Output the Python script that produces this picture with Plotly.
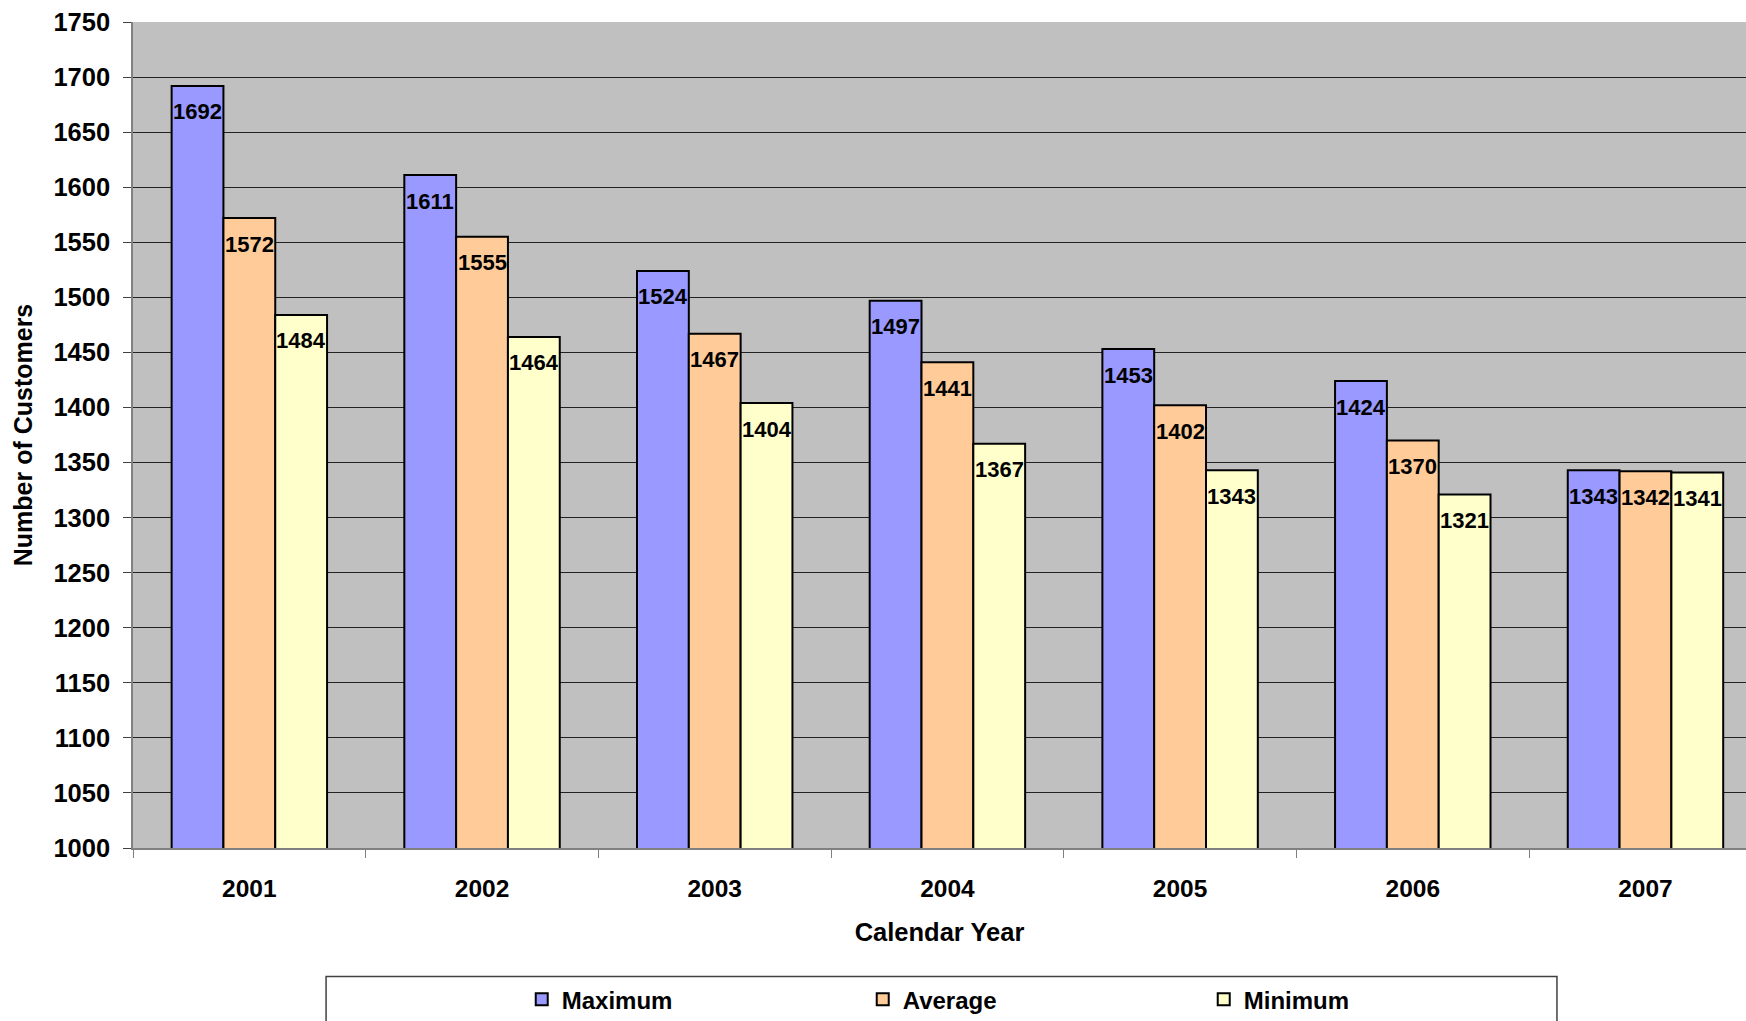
import plotly.graph_objects as go

years = ["2001", "2002", "2003", "2004", "2005", "2006", "2007"]
maximum = [1692, 1611, 1524, 1497, 1453, 1424, 1343]
average = [1572, 1555, 1467, 1441, 1402, 1370, 1342]
minimum = [1484, 1464, 1404, 1367, 1343, 1321, 1341]
series_names = ["Maximum", "Average", "Minimum"]
series_colors = ["#9999FF", "#FFCC99", "#FFFFCC"]

FONT = "Liberation Sans, Arial, sans-serif"

fig = go.Figure()
all_series = [maximum, average, minimum]
for name, vals, col in zip(series_names, all_series, series_colors):
    fig.add_trace(go.Bar(
        x=years, y=vals, name=name,
        marker=dict(color=col, line=dict(color="black", width=2)),
    ))

# data labels inside bar tops (category index positions)
bar_px = 51.8
offsets = [-bar_px, 0, bar_px]
for vals, off in zip(all_series, offsets):
    for i, v in enumerate(vals):
        fig.add_annotation(
            x=i, y=v, xref="x", yref="y", text=str(v), showarrow=False,
            xshift=off, yshift=-26, yanchor="middle", xanchor="center",
            font=dict(family=FONT, size=22, color="black", weight="bold"),
        )

# legend frame
fig.add_shape(type="rect", xref="paper", yref="paper",
              x0=0.1197, x1=0.8828, y0=-0.1556, y1=-0.35,
              line=dict(color="#404040", width=1.5), fillcolor="white", layer="below")

fig.update_layout(
    width=1746, height=1021,
    margin=dict(l=133, r=0, t=22, b=173, autoexpand=False),
    paper_bgcolor="white", plot_bgcolor="#C0C0C0",
    barmode="group", bargap=0.332, bargroupgap=0,
    font=dict(family=FONT, size=25, color="black"),
    showlegend=True,
    legend=dict(orientation="h", x=0.241, xanchor="left", y=-0.1565, yanchor="top",
                bgcolor="rgba(0,0,0,0)", entrywidth=296, entrywidthmode="pixels",
                font=dict(family=FONT, size=24, color="black", weight="bold")),
    xaxis=dict(
        range=[-0.5, 6.432], type="category",
        showline=True, linecolor="#808080", linewidth=1.5,
        ticks="outside", tickson="boundaries", ticklen=8, tickcolor="#808080",
        tickfont=dict(family=FONT, size=24.5, weight="bold"),
        ticklabelstandoff=18,
        title=dict(text="Calendar Year", standoff=22,
                   font=dict(family=FONT, size=25.5, weight="bold")),
        showgrid=False, zeroline=False, automargin=False,
    ),
    yaxis=dict(
        range=[1000, 1750], dtick=50, tick0=1000,
        showline=True, linecolor="#808080", linewidth=1.5,
        ticks="outside", ticklen=8, tickcolor="#404040",
        tickfont=dict(family=FONT, size=25.5, weight="bold"),
        ticklabelstandoff=8,
        showgrid=True, gridcolor="#222222", gridwidth=1,
        zeroline=False, automargin=False,
        title=dict(text="Number of Customers", standoff=14,
                   font=dict(family=FONT, size=25, weight="bold")),
    ),
)

fig.write_html("out.html")
